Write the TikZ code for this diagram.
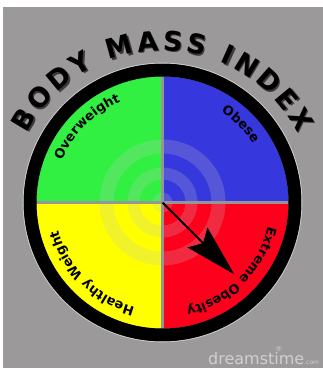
\documentclass[tikz,border=0pt]{standalone}
\usepackage{fontspec}
\setmainfont{DejaVu Sans}
\usetikzlibrary{decorations.text,arrows.meta}
\definecolor{bgc}{RGB}{155,153,153}
\definecolor{qgreen}{RGB}{50,240,65}
\definecolor{qblue}{RGB}{55,55,222}
\definecolor{qyellow}{RGB}{255,255,0}
\definecolor{qred}{RGB}{252,0,28}
\definecolor{divc}{RGB}{150,150,150}
\definecolor{ringc}{RGB}{200,200,200}
\definecolor{shadc}{RGB}{60,58,58}
\definecolor{wmc}{RGB}{208,208,208}
\newcommand{\lblf}{\bfseries\fontsize{13}{15}\selectfont}
\newcommand{\titlef}{\bfseries\fontsize{27}{30}\selectfont}
\begin{document}
\begin{tikzpicture}[x=1pt,y=1pt,
  halo/.style={fill=ringc,fill opacity=0.22,even odd rule},
  divider/.style={draw=divc,line width=3.3pt},
  pointer/.style={line width=2pt,-{Stealth[length=52pt,width=28pt,inset=8pt]}},
  lbl/.style={decorate,decoration={text along path,text align=center,text={|\lblf|#1}}}]
\useasboundingbox (0,0) rectangle (323,368);
\fill[white] (0,0) rectangle (323,368);
\fill[bgc] (3,0) rectangle (323,361);
\coordinate (C) at (162.5,165.5);
% quadrants
\fill[qgreen] (C) -- ++(90:126) arc[start angle=90,end angle=180,radius=126] -- cycle;
\fill[qblue] (C) -- ++(0:126) arc[start angle=0,end angle=90,radius=126] -- cycle;
\fill[qyellow] (C) -- ++(180:126) arc[start angle=180,end angle=270,radius=126] -- cycle;
\fill[qred] (C) -- ++(270:126) arc[start angle=270,end angle=360,radius=126] -- cycle;
% faint rings
\fill[halo] (C) circle[radius=63] (C) circle[radius=49];
\fill[halo] (C) circle[radius=35] (C) circle[radius=23];
\fill[halo] (C) circle[radius=10];
% dividers
\coordinate (T) at ([shift={(90:126)}]C);
\coordinate (B) at ([shift={(270:126)}]C);
\coordinate (L) at ([shift={(180:126)}]C);
\coordinate (R) at ([shift={(0:126)}]C);
\draw[divider] (T) -- (B);
\draw[divider] (L) -- (R);
% black rim
\draw[line width=13pt] (C) circle[radius=132.5];
\draw[white,opacity=0.55,line width=0.8pt] (C) circle[radius=139.4];
% quadrant labels
\path[lbl=Overweight] ([shift={(180:109)}]C) arc[start angle=180,end angle=90,radius=109];
\path[lbl=Obese] ([shift={(90:108)}]C) arc[start angle=90,end angle=0,radius=108];
\path[lbl=Extreme Obesity] ([shift={(0:108)}]C) arc[start angle=0,end angle=-90,radius=108];
\path[lbl=Healthy Weight] ([shift={(270:108)}]C) arc[start angle=270,end angle=180,radius=108];
% pointer
\coordinate (P) at ([shift={(-45:101.5)}]C);
\draw[pointer] (C) -- (P);
% title with shadow
\path[decorate,decoration={text along path,text align={fit to path},text={|\titlef\color{shadc}|BODY MASS INDEX}}]
  ([shift={(153:152)},xshift=1.4pt,yshift=-1.4pt]C) arc[start angle=153,end angle=27,radius=152];
\path[decorate,decoration={text along path,text align={fit to path},text={|\titlef|BODY MASS INDEX}}]
  ([shift={(153:152)}]C) arc[start angle=153,end angle=27,radius=152];
% watermark
\node[anchor=base west,inner sep=0pt,text=wmc,font=\fontsize{16}{16}\selectfont] (wm) at (208,4) {dreamstime{\fontsize{6}{6}\selectfont.com}};
\node[inner sep=0pt,text=wmc,font=\fontsize{7}{7}\selectfont] (reg) at (279,19) {®};
\end{tikzpicture}
\end{document}
